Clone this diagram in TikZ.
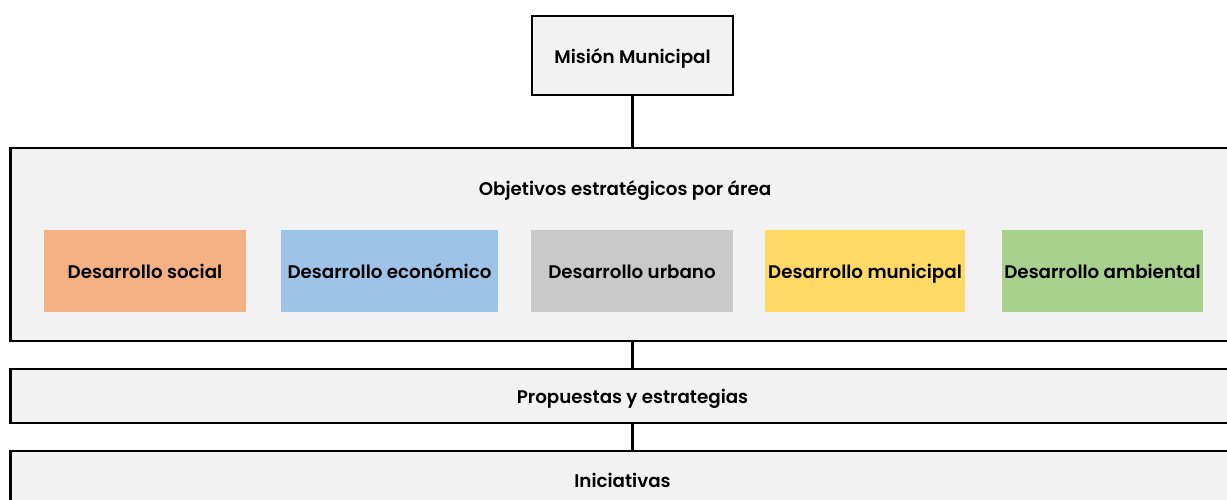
\documentclass[tikz,border=0pt]{standalone}
\usepackage{fontspec}
\setmainfont{Poppins}[BoldFont={Poppins SemiBold}]
\usetikzlibrary{positioning}
\definecolor{boxgray}{RGB}{242,242,242}
\definecolor{areasoc}{RGB}{244,177,131}
\definecolor{areaeco}{RGB}{157,195,230}
\definecolor{areaurb}{RGB}{201,201,201}
\definecolor{areamun}{RGB}{255,217,102}
\definecolor{areaamb}{RGB}{169,209,142}

\tikzset{
  bigbox/.style={draw, line width=1.2pt, fill=boxgray, inner sep=0pt},
  areabox/.style={inner sep=0pt, minimum height=1.64cm},
  lbl/.style={font=\fontsize{10.4}{12}\selectfont\bfseries, text height=1.9ex, text depth=0.3ex},
}

\begin{document}
\begin{tikzpicture}
  \useasboundingbox (0,0) rectangle (24.54,-10);
  \clip (0,0) rectangle (24.54,-10);
  \def\cx{12.65};
  % top
  \node[bigbox, minimum width=4.02cm, minimum height=1.58cm, lbl] (mision) at (\cx,-1.11) {Misión Municipal};
  % objetivos
  \node[bigbox, minimum width=24.88cm, minimum height=3.86cm] (objetivos) at (\cx,-4.89) {};
  \node[lbl] (objtitle) at (12.5,-3.76) {Objetivos estratégicos por área};
  \node[areabox, fill=areasoc, minimum width=4.04cm, lbl] (social) at (2.9,-5.42) {Desarrollo social};
  \node[areabox, fill=areaeco, minimum width=4.34cm, lbl] (economico) at (7.79,-5.42) {Desarrollo económico};
  \node[areabox, fill=areaurb, minimum width=4.04cm, lbl] (urbano) at (12.64,-5.42) {Desarrollo urbano};
  \node[areabox, fill=areamun, minimum width=4.0cm, lbl] (municipal) at (17.3,-5.42) {Desarrollo municipal};
  \node[areabox, fill=areaamb, minimum width=4.02cm, lbl] (ambiental) at (22.05,-5.42) {Desarrollo ambiental};
  % lower rows
  \node[bigbox, minimum width=24.88cm, minimum height=1.08cm, lbl] (propuestas) at (\cx,-7.92) {Propuestas y estrategias};
  \node[bigbox, minimum width=24.88cm, minimum height=1.08cm] (iniciativas) at (\cx,-9.56) {};
  \node[lbl] (initext) at (12.45,-9.6) {Iniciativas};
  % connectors
  \draw[line width=1.2pt] (mision.south) -- (mision.south |- objetivos.north);
  \draw[line width=1.2pt] (objetivos.south) -- (propuestas.north);
  \draw[line width=1.2pt] (propuestas.south) -- (iniciativas.north);
\end{tikzpicture}
\end{document}
